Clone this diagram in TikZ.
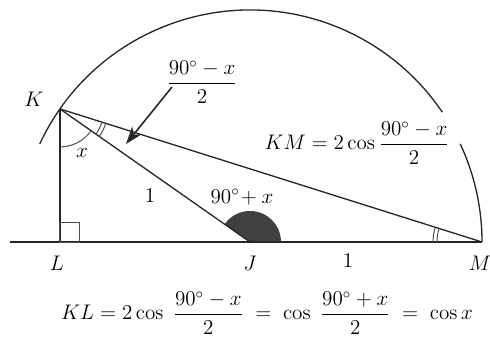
\documentclass[tikz,border=0pt]{standalone}
\usepackage{amsmath}
\usetikzlibrary{arrows.meta, calc}

\begin{document}
\begin{tikzpicture}[
    x=0.02cm, y=0.02cm,
    line/.style={line width=0.75pt, black!85},
    tick/.style={line width=0.55pt, black!70},
    lbl/.style={font=\fontsize{12}{14}\selectfont, inner sep=1pt},
    arrow/.style={line width=0.9pt, black!85, -{Stealth[length=10pt, width=7pt]}}
]
\useasboundingbox (0,0) rectangle (490,344);

% Points
\coordinate (J) at (250,102);
\coordinate (M) at ($(J)+(0:232)$);
\coordinate (K) at ($(J)+(145:232)$);
\coordinate (L) at (K |- J);
\coordinate (W) at (10,102);
\coordinate (tail) at (172,257);
\coordinate (tip) at (126,200);

% Shaded angle at J
\fill[black!75] (J) -- ++(0:31) arc[start angle=0, end angle=145, radius=31] -- cycle;

% Circle arc
\draw[line] (J) ++(155:232) arc[start angle=155, end angle=34, radius=232];
\draw[line] (J) ++(25:232) arc[start angle=25, end angle=0, radius=232];

% Segments
\draw[line] (W) -- (M);
\draw[line] (K) -- (L);
\draw[line] (K) -- (J);
\draw[line] (K) -- (M);
\draw[tick] (L) rectangle ++(20,20);

% Angle marks
\draw[tick] (K) ++(270:38) arc[start angle=270, end angle=325, radius=38];
\draw[tick] (K) ++(325:44) arc[start angle=325, end angle=342.5, radius=44];
\draw[tick] (K) ++(325:48) arc[start angle=325, end angle=342.5, radius=48];
\draw[tick] (M) ++(162.5:45) arc[start angle=162.5, end angle=180, radius=45];
\draw[tick] (M) ++(162.5:49) arc[start angle=162.5, end angle=180, radius=49];

% Labels
\node[lbl] (kK) at (34,245) {$K$};
\node[lbl] (kL) at (57,81) {$L$};
\node[lbl] (kJ) at (250,81) {$J$};
\node[lbl] (kM) at (480,81) {$M$};
\node[lbl] (kx) at (82,191) {$x$};
\node[lbl] (one1) at (150,149) {1};
\node[lbl] (one2) at (348,84) {1};
\node[lbl] (obtuse) at (242,147) {$90^\circ\!+ x$};
\node[lbl] (half) at (202,262) {$\dfrac{90^\circ - x}{2}$};
\node[lbl] (km) at (357,201) {$KM = 2\cos\dfrac{90^\circ - x}{2}$};
\node[lbl] (kl) at (267,31) {$KL = 2\cos\;\dfrac{90^\circ - x}{2} \;=\; \cos\;\dfrac{90^\circ + x}{2} \;=\; \cos x$};

% Pointer
\draw[arrow] (tail) -- (tip);

\end{tikzpicture}
\end{document}
